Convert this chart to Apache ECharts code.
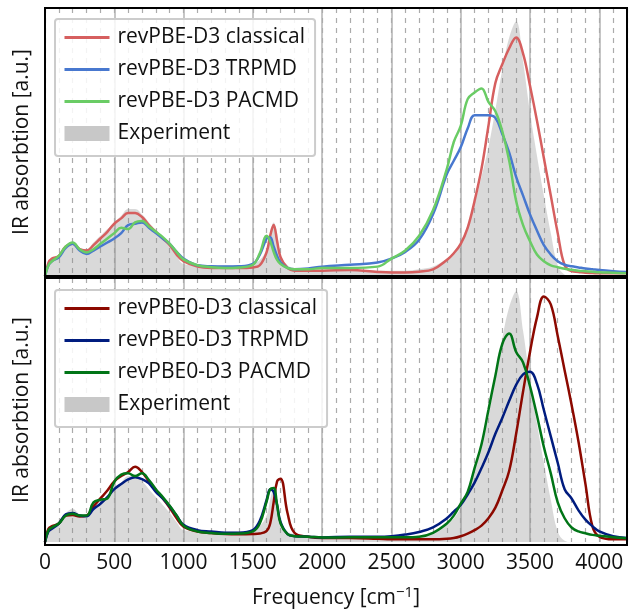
<!DOCTYPE html>
<html><head><meta charset="utf-8">
<script src="https://cdn.jsdelivr.net/npm/echarts@6/dist/echarts.min.js"></script>
<style>html,body{margin:0;padding:0;background:#fff}#c{width:636px;height:610px}</style>
</head><body><div id="c"></div>
<script>
const freq = [0,25,50,100,150,200,250,300,350,400,450,500,550,600,650,700,750,800,850,900,950,1000,1100,1200,1300,1400,1500,1550,1600,1625,1650,1675,1700,1750,1800,1900,2000,2200,2400,2500,2600,2700,2800,2900,2950,3000,3050,3100,3150,3200,3250,3300,3350,3400,3450,3500,3550,3600,3650,3700,3750,3800,3850,3900,3950,4000,4100,4200];

const experiment = [0,0.04,0.06,0.08,0.11,0.125,0.105,0.10,0.125,0.15,0.175,0.2,0.225,0.25,0.25,0.23,0.2,0.17,0.14,0.11,0.075,0.045,0.04,0.04,0.04,0.04,0.045,0.06,0.1,0.16,0.2,0.16,0.08,0.04,0.03,0.025,0.02,0.02,0.02,0.02,0.02,0.025,0.035,0.065,0.09,0.13,0.19,0.27,0.37,0.48,0.62,0.77,0.89,0.95,0.80,0.61,0.45,0.30,0.16,0.04,0.005,0,0,0,0,0,0,0];

const pbeClassical = [0,0.05,0.065,0.075,0.11,0.12,0.1,0.095,0.115,0.14,0.165,0.195,0.215,0.235,0.235,0.22,0.19,0.165,0.14,0.115,0.08,0.055,0.035,0.03,0.03,0.03,0.032,0.04,0.09,0.15,0.19,0.13,0.07,0.03,0.02,0.02,0.02,0.022,0.015,0.013,0.013,0.016,0.025,0.06,0.085,0.12,0.18,0.28,0.40,0.56,0.72,0.79,0.85,0.89,0.83,0.71,0.58,0.44,0.30,0.16,0.04,0.018,0.015,0.012,0.011,0.01,0.01,0.01];
const pbeTRPMD = [0,0.04,0.055,0.07,0.105,0.12,0.095,0.082,0.095,0.11,0.125,0.14,0.16,0.19,0.195,0.2,0.18,0.16,0.14,0.12,0.09,0.065,0.04,0.036,0.035,0.036,0.045,0.08,0.14,0.145,0.11,0.075,0.05,0.03,0.025,0.028,0.035,0.042,0.05,0.065,0.09,0.135,0.23,0.38,0.43,0.48,0.55,0.6,0.6,0.6,0.59,0.53,0.46,0.37,0.3,0.23,0.17,0.115,0.08,0.055,0.042,0.036,0.032,0.028,0.025,0.022,0.018,0.015];
const pbePACMD = [0,0.04,0.055,0.075,0.11,0.125,0.1,0.088,0.1,0.12,0.14,0.16,0.18,0.175,0.2,0.205,0.185,0.165,0.145,0.12,0.09,0.062,0.04,0.033,0.03,0.032,0.042,0.085,0.15,0.13,0.09,0.06,0.045,0.03,0.025,0.025,0.03,0.03,0.035,0.065,0.095,0.15,0.245,0.40,0.50,0.56,0.66,0.685,0.7,0.65,0.615,0.54,0.43,0.28,0.19,0.13,0.08,0.055,0.04,0.033,0.027,0.023,0.02,0.018,0.016,0.014,0.012,0.01];

const pbe0Classical = [0,0.05,0.06,0.07,0.1,0.102,0.097,0.1,0.135,0.165,0.195,0.23,0.25,0.265,0.285,0.265,0.23,0.195,0.165,0.13,0.09,0.058,0.04,0.034,0.03,0.029,0.03,0.032,0.042,0.07,0.15,0.23,0.24,0.11,0.035,0.02,0.015,0.015,0.012,0.01,0.01,0.01,0.01,0.012,0.015,0.022,0.032,0.045,0.062,0.09,0.13,0.195,0.27,0.41,0.57,0.72,0.85,0.93,0.9,0.78,0.65,0.52,0.38,0.22,0.06,0.02,0.01,0.01];
const pbe0TRPMD = [0,0.04,0.05,0.07,0.105,0.11,0.1,0.098,0.125,0.145,0.17,0.2,0.22,0.237,0.245,0.238,0.222,0.19,0.165,0.135,0.1,0.065,0.045,0.04,0.035,0.035,0.045,0.08,0.16,0.2,0.19,0.14,0.075,0.03,0.022,0.02,0.017,0.02,0.02,0.022,0.028,0.038,0.055,0.09,0.115,0.14,0.18,0.225,0.28,0.34,0.41,0.47,0.535,0.595,0.635,0.645,0.6,0.5,0.4,0.3,0.2,0.165,0.12,0.085,0.06,0.04,0.022,0.015];
const pbe0PACMD = [0,0.045,0.055,0.07,0.1,0.107,0.1,0.1,0.15,0.16,0.165,0.228,0.255,0.26,0.25,0.26,0.235,0.2,0.17,0.137,0.1,0.062,0.04,0.034,0.031,0.032,0.04,0.07,0.155,0.2,0.205,0.14,0.07,0.03,0.022,0.02,0.017,0.018,0.018,0.018,0.018,0.02,0.035,0.07,0.1,0.145,0.19,0.28,0.37,0.5,0.63,0.75,0.79,0.72,0.68,0.59,0.48,0.36,0.26,0.15,0.09,0.055,0.04,0.033,0.027,0.024,0.018,0.014];

const xTickLabels = ['0','500','1000','1500','2000','2500','3000','3500','4000'];
const topNames = ['revPBE-D3 classical','revPBE-D3 TRPMD','revPBE-D3 PACMD'];
const botNames = ['revPBE0-D3 classical','revPBE0-D3 TRPMD','revPBE0-D3 PACMD'];
const expName = 'Experiment';

const topColors = ['#D65F5F','#4878CF','#6ACC65'];
const botColors = ['#8C0900','#001C7F','#017517'];
const FONT = 'Open Sans';
const pairs = v => freq.map((f,i)=>[f,v[i]]);

const grids = [
  {left:45, top:8, width:582, height:268},
  {left:45, top:278, width:582, height:267}
];
function xAxes(gi, showLabels){
  return [
    {type:'value', gridIndex:gi, min:0, max:4200, interval:500,
     axisLine:{show:false}, axisTick:{show:false},
     axisLabel:{show:showLabels, showMaxLabel:false, fontFamily:FONT, fontSize:21, color:'#111', margin:11,
       formatter: v => { const s=String(v); return xTickLabels.indexOf(s)>=0 ? s : ''; }},
     splitLine:{show:true, lineStyle:{color:'#b3b3b3', width:1.5, type:'solid'}},
     name: showLabels ? '{n|Frequency [cm}{s|\u22121}{n|]}' : '',
     nameLocation:'middle', nameGap:43,
     nameTextStyle:{rich:{n:{fontFamily:FONT,fontSize:21,color:'#111'}, s:{fontFamily:FONT,fontSize:15,color:'#111',padding:[0,0,12,0]}}}},
    {type:'value', gridIndex:gi, min:0, max:4200, interval:100,
     axisLine:{show:false}, axisTick:{show:false}, axisLabel:{show:false},
     splitLine:{show:true, lineStyle:{color:'#ababab', width:1.2, type:[5,5]}}}
  ];
}
const xAxis = [...xAxes(0,false), ...xAxes(1,true)];
const yAxis = [0,1].map(gi=>({type:'value', gridIndex:gi, min:0, max:1,
  axisLine:{show:false}, axisTick:{show:false}, axisLabel:{show:false}, splitLine:{show:false},
  name:'IR absorbtion [a.u.]', nameLocation:'middle', nameGap:12,
  nameTextStyle:{fontFamily:FONT, fontSize:21, color:'#111'}}));

function expSeries(gi){
  return {name:expName, type:'line', xAxisIndex:gi*2, yAxisIndex:gi, data:pairs(experiment),
    showSymbol:false, symbol:'none', smooth:0.4, z:1,
    itemStyle:{color:'#c8c8c8'}, lineStyle:{width:0},
    areaStyle:{color:'rgba(140,140,140,0.47)'}};
}
function lineSeries(gi, name, vals, color){
  return {name, type:'line', xAxisIndex:gi*2, yAxisIndex:gi, data:pairs(vals),
    showSymbol:false, symbol:'none', smooth:0.4, z:3,
    itemStyle:{color}, lineStyle:{width:2.5, color}};
}
const topVals=[pbeClassical,pbeTRPMD,pbePACMD];
const botVals=[pbe0Classical,pbe0TRPMD,pbe0PACMD];
const series = [
  expSeries(0),
  ...topNames.map((n,i)=>lineSeries(0,n,topVals[i],topColors[i])),
  expSeries(1),
  ...botNames.map((n,i)=>lineSeries(1,n,botVals[i],botColors[i]))
];
function legend(top, names){
  return {left:55, top, orient:'vertical', itemWidth:45, itemHeight:15, itemGap:11,
    padding:[8,10,12,8], backgroundColor:'rgba(255,255,255,0.85)', borderColor:'#cccccc', borderWidth:2, borderRadius:3,
    itemStyle:{opacity:0}, lineStyle:{width:3},
    textStyle:{fontFamily:FONT, fontSize:21, color:'#111', padding:[0,0,0,3]},
    data:[...names, {name:expName, icon:'rect', itemStyle:{color:'#c8c8c8', opacity:1}}]};
}
const chart = echarts.init(document.getElementById('c'), null, {renderer:'canvas'});
chart.setOption({
  animation:false,
  grid:grids, xAxis, yAxis, series,
  legend:[legend(19, topNames), legend(290, botNames)],
  graphic:[
    {type:'rect', shape:{x:45,y:8,width:582,height:268}, style:{fill:'none', stroke:'#000', lineWidth:2}, z:100},
    {type:'rect', shape:{x:45,y:278,width:582,height:267}, style:{fill:'none', stroke:'#000', lineWidth:2}, z:100}
  ]
});
</script></body></html>
